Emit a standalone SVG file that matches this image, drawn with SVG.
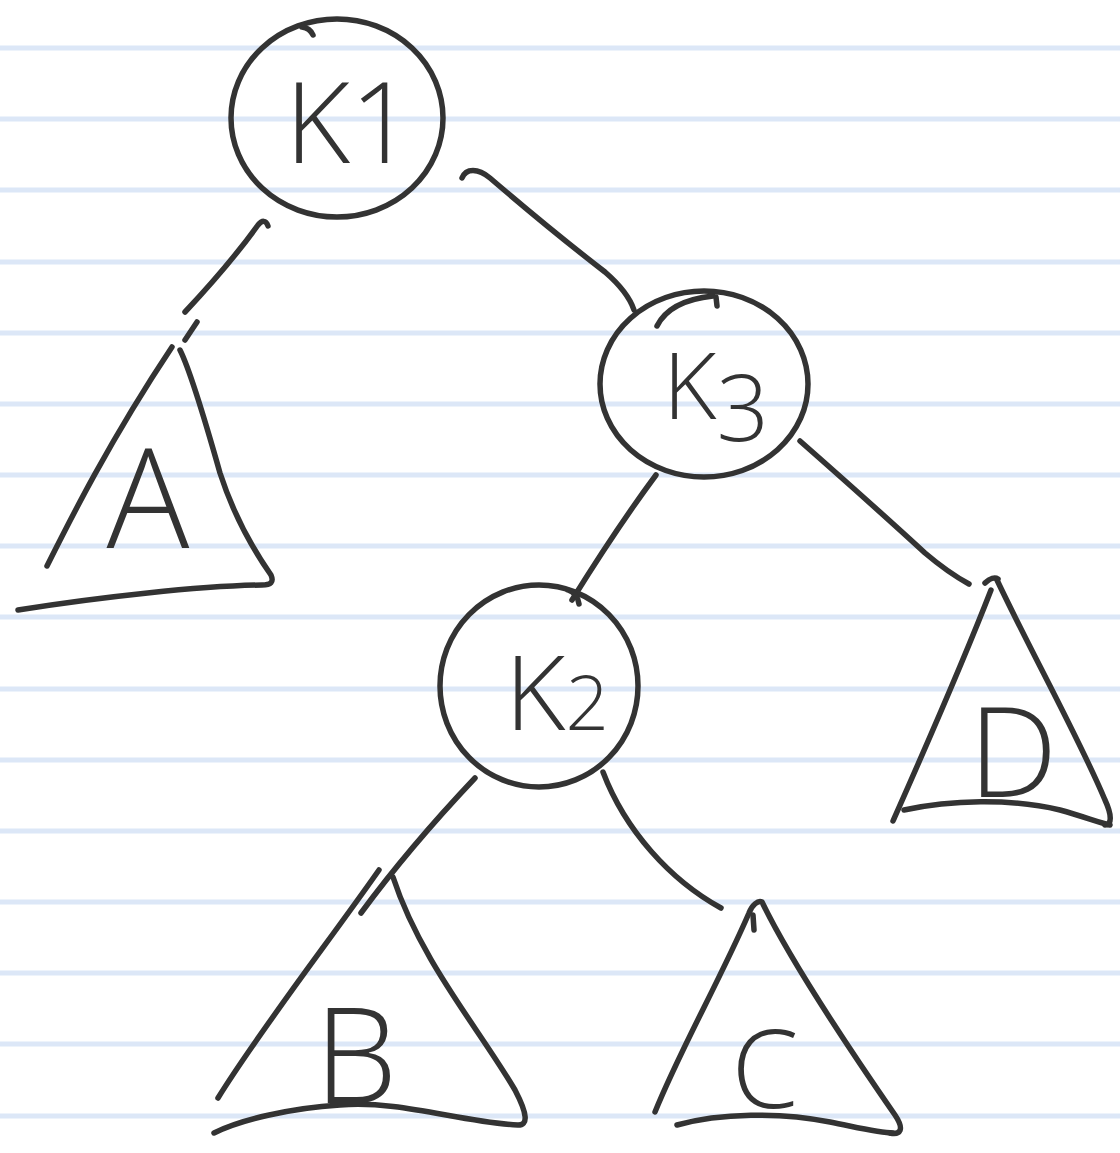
<svg xmlns="http://www.w3.org/2000/svg" width="1120" height="1153" viewBox="0 0 1120 1153">
<style>
.rule{stroke:#dce7f7;stroke-width:5;fill:none}
.ink{stroke:#333;stroke-width:5.5;fill:none;stroke-linecap:round;stroke-linejoin:round}
.lbl{font-family:"Open Sans","DejaVu Sans",sans-serif;font-weight:300;fill:#333}
</style>
<rect width="1120" height="1153" fill="#fff"/>
<g id="paper">
<line class="rule" x1="0" y1="48" x2="1120" y2="48"/>
<line class="rule" x1="0" y1="119" x2="1120" y2="119"/>
<line class="rule" x1="0" y1="190" x2="1120" y2="190"/>
<line class="rule" x1="0" y1="262" x2="1120" y2="262"/>
<line class="rule" x1="0" y1="333" x2="1120" y2="333"/>
<line class="rule" x1="0" y1="404" x2="1120" y2="404"/>
<line class="rule" x1="0" y1="475" x2="1120" y2="475"/>
<line class="rule" x1="0" y1="546" x2="1120" y2="546"/>
<line class="rule" x1="0" y1="617" x2="1120" y2="617"/>
<line class="rule" x1="0" y1="689" x2="1120" y2="689"/>
<line class="rule" x1="0" y1="760" x2="1120" y2="760"/>
<line class="rule" x1="0" y1="831" x2="1120" y2="831"/>
<line class="rule" x1="0" y1="902" x2="1120" y2="902"/>
<line class="rule" x1="0" y1="973" x2="1120" y2="973"/>
<line class="rule" x1="0" y1="1044" x2="1120" y2="1044"/>
<line class="rule" x1="0" y1="1116" x2="1120" y2="1116"/>
</g>
<g id="connectors">
<path class="ink" d="M268,226 C266,220 262,220 258,225 C240,250 215,280 185,312"/>
<path class="ink" d="M462,178 C466,168 478,168 490,178 C525,208 570,245 605,272 C620,285 630,298 634,310"/>
<path class="ink" d="M656,475 C630,510 600,555 572,600"/>
<path class="ink" d="M800,441 C850,485 900,530 925,553 C945,570 958,578 969,584"/>
<path class="ink" d="M475,778 C440,815 400,860 361,913"/>
<path class="ink" d="M603,772 C625,830 670,880 721,908"/>
</g>
<g id="k1">
<ellipse class="ink" cx="337" cy="118" rx="106" ry="99"/>
<path class="ink" d="M302,27 Q310,28 313,35"/>
<text class="lbl" x="285" y="163" font-size="112">K1</text>
</g>
<g id="k3">
<ellipse class="ink" cx="704" cy="384" rx="104" ry="93"/>
<path class="ink" d="M657,326 C666,308 685,299 713,296"/>
<path class="ink" d="M716,297 L717,306"/>
<text class="lbl" x="663" y="419" font-size="92">K<tspan dy="22">3</tspan></text>
</g>
<g id="k2">
<ellipse class="ink" cx="539" cy="686" rx="99" ry="101"/>
<path class="ink" d="M568,590 C574,592 578,597 579,604"/>
<text class="lbl" x="505" y="730" font-size="104">K<tspan font-size="76">2</tspan></text>
</g>
<g id="a">
<path class="ink" d="M47,566 C70,520 110,440 172,347"/>
<path class="ink" d="M197,322 L185,340"/>
<path class="ink" d="M180,350 C190,370 205,420 220,473 C232,510 250,545 271,575 C274,582 271,585 262,585 C200,586 100,597 18,610"/>
<text class="lbl" x="148" y="548" font-size="138" text-anchor="middle">A</text>
</g>
<g id="b">
<path class="ink" d="M218,1098 C260,1030 330,940 379,870"/>
<path class="ink" d="M393,877 C420,960 480,1030 515,1090 C528,1115 528,1125 518,1125 C460,1122 400,1100 340,1105 C290,1108 240,1120 214,1133"/>
<text class="lbl" x="356" y="1103" font-size="132" text-anchor="middle">B</text>
</g>
<g id="c">
<path class="ink" d="M655,1112 C680,1050 720,980 749,913 C752,905 758,900 762,902 C790,960 850,1050 895,1115 C905,1130 900,1135 890,1133"/>
<path class="ink" d="M677,1125 C720,1113 780,1112 830,1122 C860,1128 880,1133 893,1133"/>
<path class="ink" d="M753,915 L754,930"/>
<text class="lbl" x="765" y="1108" font-size="108" text-anchor="middle">C</text>
</g>
<g id="d">
<path class="ink" d="M893,821 C920,760 960,670 991,590"/>
<path class="ink" d="M985,583 C990,578 995,577 998,579"/>
<path class="ink" d="M997,580 C1030,650 1080,740 1105,800 C1112,815 1112,825 1105,825"/>
<path class="ink" d="M904,810 C950,800 1010,798 1060,810 C1085,817 1100,823 1110,825"/>
<text class="lbl" x="1013" y="797" font-size="126" text-anchor="middle">D</text>
</g>
</svg>
